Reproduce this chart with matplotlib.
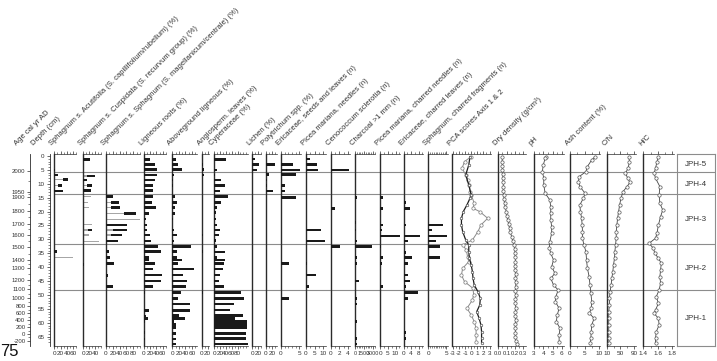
import matplotlib
matplotlib.use("Agg")
import matplotlib.pyplot as plt

plt.rcParams['font.family'] = ['Liberation Sans', 'DejaVu Sans']

# ---------------- DATA ----------------
zone_bounds = [5.9, 13.8, 31.7, 48.2]
zone_names = ["JPH-5", "JPH-4", "JPH-3", "JPH-2", "JPH-1"]
zone_label_depths = [3.2, 10.4, 23.0, 40.4, 58.6]

age_labels = ["2000", "1950", "1900", "1800", "1700", "1600", "1500", "1400", "1300",
              "1200", "1100", "1000", "800", "600", "400", "200", "0", "-200"]
age_depths = [5.4, 12.9, 14.6, 19.8, 24.3, 28.4, 32.9, 37.4, 40.4, 44.6, 47.9,
              51.2, 53.9, 56.6, 59.0, 61.6, 64.0, 66.5]

acu_depth = [5.0, 6.8, 8.5, 10.6, 12.6, 34.4, 36.6]
acu_gray = [0, 0, 26, 11, 0, 0, 60]
acu_black = [3, 12, 18, 12, 26, 7, 0]

cus_depth = [1.2, 7.2, 8.6, 10.7, 12.5, 14.6, 16.7, 18.5, 24.8, 26.6, 28.4, 30.6, 39.0]
cus_gray = [0, 11, 0, 11, 0, 24, 17, 20, 28, 17, 19, 53, 0]
cus_black = [22, 28, 11, 17, 25, 0, 0, 0, 0, 11, 0, 0, 3]

sph_depth = [14.6, 16.7, 18.5, 20.6, 22.7, 24.8, 26.6, 28.4, 30.6, 34.4, 36.6, 38.6, 43.0, 47.0]
sph_gray = [0, 14, 14, 53, 100, 0, 22, 14, 0, 0, 0, 0, 0, 0]
sph_black = [20, 25, 27, 35, 0, 61, 41, 32, 36, 10, 12, 24, 5, 20]

lig_depth = [1.2, 3.0, 4.8, 6.8, 8.6, 10.7, 12.5, 14.6, 16.7, 18.5, 20.6, 22.7, 24.8, 26.6,
             28.4, 30.6, 32.6, 34.4, 36.6, 37.4, 38.6, 40.6, 42.8, 44.9, 47.0, 49.0, 51.2,
             55.5, 57.5, 58.5, 59.5, 63.4, 65.8]
lig_vals = [19, 35, 43, 41, 35, 28, 30, 28, 25, 38, 17, 6, 11, 11, 19, 22, 46, 54, 17, 17,
            35, 28, 57, 54, 28, 4, 1, 17, 8, 14, 4, 3, 2]

abv_depth = [1.2, 3.0, 4.8, 6.8, 8.6, 10.7, 14.6, 16.7, 18.5, 20.6, 22.7, 26.6, 28.4, 30.6,
             32.6, 34.4, 36.6, 37.4, 38.6, 40.6, 42.8, 44.9, 47.0, 49.0, 51.2, 53.2, 55.5,
             57.4, 58.4, 59.6, 60.6, 61.6, 63.8, 65.8, 67.6]
abv_vals = [11, 18, 31, 6, 2, 1, 8, 13, 8, 8, 3, 5, 13, 6, 57, 13, 15, 29, 18, 68, 32, 46,
            42, 27, 18, 55, 55, 20, 39, 6, 11, 11, 11, 11, 10]

ang_depth = [3.0, 4.8, 6.8, 8.6, 28.4, 34.4, 36.6, 38.6, 49.0, 51.2]
ang_vals = [3, 8, 8, 2, 5, 3, 1.5, 1.5, 3, 1]

cyp_depth = [1.2, 5.0, 6.8, 8.6, 10.7, 12.6, 14.6, 16.7, 18.6, 20.4, 22.7, 24.8, 26.6, 28.4,
             30.4, 32.6, 34.5, 36.5, 37.4, 38.6, 40.6, 42.8, 44.9, 47.0, 49.0, 51.2, 53.2,
             55.4, 57.3, 58.4, 59.6, 60.6, 61.6, 63.8, 65.7, 67.6]
cyp_vals = [40, 10, 2, 22, 37, 20, 48, 22, 10, 5, 5, 10, 20, 15, 6, 11, 38, 8, 37, 33, 29,
            20, 17, 33, 91, 102, 68, 54, 100, 71, 114, 114, 114, 111, 111, 116]

lic_depth = [1.1, 3.0, 5.0]
lic_vals = [8, 24, 17]

pol_depth = [3.0, 6.6, 8.6, 10.7, 12.6, 24.8]
pol_vals = [30, 11, 4, 4, 24, 1]

eri_depth = [3.0, 5.0, 6.6, 10.7, 12.6, 14.9, 38.6, 51.2]
eri_vals = [3.2, 5.2, 4.1, 1.1, 1.1, 4.1, 2.2, 2.2]

pic_depth = [1.1, 3.0, 5.0, 26.6, 30.6, 38.6, 42.8, 47.0]
pic_vals = [2.3, 6.5, 6.9, 8.5, 11, 0.3, 5.8, 1.7]

cen_depth = [5.0, 18.8, 32.6]
cen_vals = [4.3, 1.1, 2.2]

cha_depth = [14.9, 24.0, 26.6, 30.6, 32.6, 36.4, 38.6, 44.9, 51.2, 53.2, 59.6, 65.6, 67.6]
cha_vals = [350, 150, 150, 350, 2780, 350, 350, 670, 280, 280, 280, 280, 280]

pcn_depth = [14.9, 18.8, 24.8, 26.6, 28.8, 32.6, 36.4, 38.6, 47.0]
pcn_vals = [1.7, 2.0, 1.7, 1.0, 12.6, 0.5, 2.0, 1.0, 2.0]

ecl_depth = [16.7, 18.8, 24.8, 28.8, 30.6, 34.6, 36.4, 38.6, 42.8, 44.9, 47.0, 49.0, 51.2,
             63.5, 65.6]
ecl_vals = [1.2, 3.5, 1.2, 8.8, 2.3, 1.2, 4.7, 2.6, 2.3, 3.5, 1.2, 7.4, 2.6, 1.2, 1.2]

scf_depth = [24.8, 26.6, 28.8, 30.6, 32.6, 36.4]
scf_vals = [4.1, 1.0, 5.2, 2.0, 3.3, 3.3]

pca1_depth = [0.2, 3.2, 6.8, 10.4, 14.0, 15.2, 17.6, 20.0, 22.4, 24.8, 27.2, 30.2, 32.0,
              34.4, 36.8, 39.2, 41.6, 44.0, 46.4, 48.8, 51.2, 53.6, 56.0, 58.4, 60.8, 63.2,
              65.6, 67.2]
pca1_vals = [-0.2, -0.4, -0.9, -0.4, 0.0, -0.2, -0.7, -1.3, -1.6, -1.6, -1.4, -0.9, -0.4,
             -0.4, -0.3, 0.0, 0.2, 0.3, 0.5, 1.1, 1.5, 1.4, 0.9, 1.3, 1.6, 1.7, 1.7, 1.7]
pca2_depth = [0.2, 2.0, 4.4, 6.8, 8.6, 10.4, 12.8, 14.0, 17.0, 18.8, 20.0, 22.4, 24.8, 27.2,
              30.2, 32.0, 33.8, 36.2, 38.0, 40.4, 42.8, 45.2, 47.6, 50.0, 51.8, 54.8, 57.2,
              59.6, 62.0, 64.4, 66.8]
pca2_vals = [0.0, -1.1, -1.5, -0.9, -0.5, -0.3, -0.2, 0.0, 0.5, 0.3, 1.4, 2.7, 1.6, 1.1,
             0.2, -1.4, -0.8, -0.6, -0.4, -1.4, -1.6, -1.1, 0.3, 0.4, 0.2, -0.7, 0.0, 0.5,
             0.8, 0.8, 0.8]

dd_depth = [0.5, 2, 3.5, 5, 6.5, 8, 9.5, 11, 12.5, 14, 15.5, 17, 18.5, 20, 21.5, 23, 24.5,
            26, 27.5, 29, 30.5, 32, 33.5, 35, 36.5, 38, 39.5, 41, 42.5, 44, 45.5, 47, 48.5,
            50, 51.5, 53, 54.5, 56, 57.5, 59, 60.5, 62, 63.5, 65, 66.5, 67.5]
dd_vals = [.05, .045, .05, .05, .055, .055, .06, .06, .06, .065, .07, .075, .085, .095,
           .105, .115, .125, .135, .145, .16, .175, .19, .2, .2, .205, .205, .2, .205, .21,
           .205, .21, .21, .205, .21, .205, .205, .21, .205, .205, .21, .205, .205, .205,
           .205, .21, .23]

ph_depth = [0.3, 0.8, 3.2, 5.6, 8.0, 10.4, 13.4, 15.8, 18.2, 20.6, 23.0, 25.4, 27.8, 30.8,
            33.2, 35.0, 37.4, 39.8, 42.2, 44.0, 46.4, 48.2, 50.6, 52.4, 54.8, 57.2, 59.6,
            62.0, 64.4, 66.8]
ph_vals = [4.25, 4.2, 4.0, 3.9, 4.05, 4.05, 4.2, 4.7, 4.8, 4.8, 4.8, 4.9, 4.9, 4.7, 4.65,
           4.8, 5.1, 4.9, 5.25, 4.8, 5.1, 5.6, 5.35, 5.3, 5.7, 5.5, 5.4, 5.8, 5.7, 5.7]

ash_depth = [0.3, 1.4, 3.8, 5.6, 7.4, 9.2, 11.0, 13.4, 15.2, 17.6, 20.0, 22.4, 24.8, 27.2,
             29.6, 32.0, 34.4, 37.4, 40.4, 43.4, 46.4, 49.4, 52.4, 54.8, 56.6, 58.4, 60.8,
             63.2, 65.6, 67.2]
ash_vals = [8.6, 7.5, 6.0, 5.5, 3.2, 2.9, 3.4, 5.2, 4.6, 3.4, 3.6, 4.0, 4.2, 4.3, 4.3, 4.8,
            5.5, 5.7, 6.0, 6.6, 6.9, 7.2, 7.5, 7.3, 6.7, 8.3, 7.5, 7.3, 7.2, 7.0]

cn_depth = [0.3, 2.0, 4.4, 6.2, 8.0, 9.5, 11.0, 12.8, 15.2, 17.6, 20.0, 22.4, 24.8, 27.2,
            29.6, 32.0, 34.4, 36.8, 39.2, 41.6, 44.0, 46.4, 48.8, 51.2, 53.6, 56.0, 58.4,
            60.8, 63.2, 65.6, 67.2]
cn_vals = [75, 77, 73, 65, 72, 78, 70, 58, 52, 48, 45, 42, 40, 38, 38, 36, 34, 33, 30, 28,
           25, 23, 20, 18, 18, 16, 16, 16, 16, 16, 17]

hc_depth = [0.3, 2.0, 4.4, 6.2, 8.0, 11.0, 14.0, 17.0, 19.4, 21.8, 24.8, 27.8, 29.6, 31.4,
            33.2, 35.0, 36.8, 38.6, 41.0, 43.4, 45.8, 48.2, 50.6, 53.0, 55.4, 56.6, 58.4,
            60.8, 63.2, 65.6, 67.2]
hc_vals = [1.61, 1.59, 1.57, 1.55, 1.57, 1.63, 1.62, 1.63, 1.67, 1.64, 1.61, 1.59, 1.57,
           1.48, 1.54, 1.56, 1.61, 1.65, 1.64, 1.63, 1.64, 1.62, 1.58, 1.61, 1.57, 1.55, 1.61,
           1.62, 1.58, 1.57, 1.57]

# ---------------- LAYOUT ----------------
W, H = 717, 361
fig = plt.figure(figsize=(W / 100, H / 100), dpi=100)
Y_TOP, Y_BOT = 154.0, 345.5
D0_PX, PX_PER_CM = 156.0, 2.78


def px_depth(y):
    return (y - D0_PX) / PX_PER_CM


YLIM = (px_depth(Y_BOT), px_depth(Y_TOP))
DARK = '#2b2b2b'
GRAY = '#a6a6a6'
TXT = '#333333'
FS = 5.5


def add_ax(x0, x1):
    ax = fig.add_axes([x0 / W, 1 - Y_BOT / H, (x1 - x0) / W, (Y_BOT - Y_TOP) / H])
    ax.set_ylim(*YLIM)
    ax.set_facecolor('none')
    return ax


# background zone lines
bg = add_ax(54.3, 715)
bg.set_xlim(0, 1)
for s in bg.spines.values():
    s.set_visible(False)
bg.set_xticks([])
bg.set_yticks([])
for zb in zone_bounds:
    bg.axhline(zb, color='#8c8c8c', lw=0.8, zorder=0)

# zone box
zb_ax = add_ax(677, 715)
zb_ax.set_xlim(0, 1)
zb_ax.set_xticks([])
zb_ax.set_yticks([])
for s in zb_ax.spines.values():
    s.set_color('#8c8c8c')
    s.set_linewidth(0.8)
for nm, d in zip(zone_names, zone_label_depths):
    zb_ax.text(0.5, d, nm, ha='center', va='center', fontsize=5.8, color=TXT)

# age axis
ag = add_ax(30, 31)
for k in ['right', 'top', 'bottom']:
    ag.spines[k].set_visible(False)
ag.spines['left'].set_color(DARK)
ag.spines['left'].set_linewidth(0.6)
ag.set_xticks([])
ag.set_yticks(age_depths)
ag.set_yticklabels(age_labels)
ag.set_yticks([(a + b) / 2 for a, b in zip(age_depths[:-1], age_depths[1:])], minor=True)
ag.tick_params(axis='y', which='major', length=2.5, width=0.5, pad=0.8, labelsize=4.3,
               colors=DARK, labelcolor=TXT)
ag.tick_params(axis='y', which='minor', length=1.3, width=0.4, colors=DARK)

# depth axis
dp = add_ax(50, 51)
for k in ['right', 'top', 'bottom']:
    dp.spines[k].set_visible(False)
dp.spines['left'].set_color(DARK)
dp.spines['left'].set_linewidth(0.6)
dp.set_xticks([])
dp.set_yticks(list(range(0, 70, 5)))
dp.set_yticklabels([str(v) for v in range(0, 70, 5)])
dp.set_yticks(list(range(0, 68)), minor=True)
dp.tick_params(axis='y', which='major', length=2.5, width=0.5, pad=1.5, labelsize=4.5,
               colors=DARK, labelcolor=TXT)
dp.tick_params(axis='y', which='minor', length=1.2, width=0.4, colors=DARK)
dp.set_ylim(*YLIM)


def panel(L, R, x0, scale, rlo, rhi, majors, labels, minors, title, lsize=4.6):
    ax = add_ax(L, R)
    ax.set_xlim(x0, x0 + (R - L) / scale)
    ax.spines['right'].set_visible(False)
    ax.spines['left'].set_color(DARK)
    ax.spines['left'].set_linewidth(1.0)
    for k in ['top', 'bottom']:
        ax.spines[k].set_bounds(rlo, rhi)
        ax.spines[k].set_color(DARK)
        ax.spines[k].set_linewidth(0.5)
    ax.set_yticks([])
    ax.xaxis.set_ticks_position('both')
    ax.set_xticks(majors)
    ax.set_xticklabels(labels)
    ax.set_xticks(minors, minor=True)
    ax.tick_params(axis='x', which='major', direction='out', length=2.2, width=0.5,
                   pad=1.5, labelsize=lsize, colors=DARK, labelcolor=TXT,
                   top=True, bottom=True, labeltop=False, labelbottom=True)
    ax.tick_params(axis='x', which='minor', direction='out', length=1.2, width=0.4,
                   colors=DARK, top=True, bottom=True)
    fig.text((L - 1) / W, 1 - 147 / H, title, rotation=45, rotation_mode='anchor',
             ha='left', va='bottom', fontsize=FS, color=TXT)
    return ax


def rng(a, b, s):
    out = []
    v = a
    while v <= b + 1e-9:
        out.append(round(v, 4))
        v += s
    return out


def bars(ax, d, v, gray=None):
    if gray is not None:
        ax.barh(d, gray, height=0.4, color=GRAY, zorder=2)
        ax.barh(d, v, left=gray, height=0.95, color='#1a1a1a', zorder=3)
    else:
        ax.barh(d, v, height=0.95, color='#1a1a1a', zorder=3)


def curve(ax, d, v, color='#444444', mfc='white', mec='#555555', lw=0.6, ms=2.4):
    ax.plot(v, d, color=color, lw=lw, marker='o', ms=ms, mfc=mfc, mec=mec, mew=0.5,
            zorder=3)


fig.text(18 / W, 1 - 147 / H, "Age cal yr AD", rotation=45, rotation_mode='anchor',
         ha='left', va='bottom', fontsize=FS, color=TXT)
fig.text(35 / W, 1 - 147 / H, "Depth (cm)", rotation=45, rotation_mode='anchor',
         ha='left', va='bottom', fontsize=FS, color=TXT)

ax = panel(54.3, 83.3, 0, 0.317, 0, 70, [0, 20, 40, 60], ['0', '20', '40', '60'],
           rng(0, 70, 10), "Sphagnum s. Acutifolia (S. capillifolium/rubellum) (%)")
bars(ax, acu_depth, acu_black, acu_gray)

ax = panel(83.3, 106, 0, 0.30, 0, 60, [0, 20, 40], ['0', '20', '40'], rng(0, 60, 10),
           "Sphagnum s. Cuspidata (S. recurvum group) (%)")
bars(ax, cus_depth, cus_black, cus_gray)

ax = panel(106, 144, 0, 0.34, 0, 100, [0, 20, 40, 60, 80], ['0', '20', '40', '60', '80'],
           rng(0, 100, 10), "Sphagnum s. Sphagnum (S. magellanicum/centrale) (%)")
bars(ax, sph_depth, sph_black, sph_gray)

ax = panel(144, 172.3, 0, 0.31, 0, 70, [0, 20, 40, 60], ['0', '20', '40', '60'],
           rng(0, 70, 10), "Ligneous roots (%)")
bars(ax, lig_depth, lig_vals)

ax = panel(172.3, 201.7, 0, 0.325, 0, 75, [0, 20, 40, 60], ['0', '20', '40', '60'],
           rng(0, 70, 10), "Aboveground ligneous (%)")
bars(ax, abv_depth, abv_vals)

ax = panel(201.7, 214.3, 0, 0.3, 0, 25, [0, 20], ['0', '20'], rng(0, 20, 10),
           "Angiosperm. leaves (%)")
bars(ax, ang_depth, ang_vals)

ax = panel(214.3, 252.3, 0, 0.29, 0, 115, [0, 20, 40, 60, 80], ['0', '20', '40', '60', '80'],
           rng(0, 110, 10), "Cyperaceae (%)")
bars(ax, cyp_depth, cyp_vals)

ax = panel(252.3, 266, 0, 0.28, 0, 30, [0, 20], ['0', '20'], rng(0, 30, 10), "Lichen (%)")
bars(ax, lic_depth, lic_vals)

ax = panel(266, 281, 0, 0.3, 0, 35, [0, 20], ['0', '20'], rng(0, 30, 10),
           "Polytrichum spp. (%)")
bars(ax, pol_depth, pol_vals)

ax = panel(281, 306, 0, 3.67, 0, 5.4, [0, 5], ['0', '5'], rng(0, 5, 1),
           "Ericaceae, seeds and leaves (n)")
bars(ax, eri_depth, eri_vals)

ax = panel(306, 330.7, 0, 1.73, 0, 11.5, [0, 5, 10], ['0', '5', '10'], rng(0, 11, 2.5),
           "Picea mariana, needles (n)")
bars(ax, pic_depth, pic_vals)

ax = panel(330.7, 355, 0, 4.3, 0, 4.5, [0, 2, 4], ['0', '2', '4'], rng(0, 4.5, 1),
           "Cenococcum sclerotia (n)")
bars(ax, cen_depth, cen_vals)

ax = panel(355, 380.3, 0, 0.006, 0, 3300, [0, 1500, 3000], ['0', '1500', '3000'],
           rng(0, 3300, 300), "Charcoal >1 mm (n)", lsize=3.9)
bars(ax, cha_depth, cha_vals)

ax = panel(380.3, 403.5, 0, 1.53, 0, 13, [0, 5, 10], ['0', '5', '10'], rng(0, 12.5, 2.5),
           "Picea mariana, charred needles (n)")
bars(ax, pcn_depth, pcn_vals)

ax = panel(403.5, 428.3, 0, 1.9, 0, 10.5, [0, 4, 8], ['0', '4', '8'], rng(0, 10, 2),
           "Ericaceae, charred leaves (n)")
bars(ax, ecl_depth, ecl_vals)

ax = panel(428.3, 452.3, 0, 3.6, 0, 5.4, [0, 5], ['0', '5'], rng(0, 5, 0.5),
           "Sphagnum, charred fragments (n)")
bars(ax, scf_depth, scf_vals)

ax = panel(452.3, 498.3, -3.1, 6.1, -3.1, 3.2, [-3, -2, -1, 0, 1, 2, 3],
           ['-3', '-2', '-1', '0', '1', '2', '3'], rng(-3, 3, 0.5), "PCA scores Axis 1 & 2")
curve(ax, pca2_depth, pca2_vals, color='#8a8a8a', mec='#7a7a7a', lw=0.7)
curve(ax, pca1_depth, pca1_vals, color='#1e1e1e', mec='#555555', lw=0.9, ms=1.8)

ax = panel(498.3, 534, 0, 83.3, 0, 0.33, [0, 0.1, 0.2, 0.3], ['0.0', '0.1', '0.2', '0.3'],
           rng(0, 0.3, 0.05), "Dry density (g/cm\u00b3)", lsize=4.2)
curve(ax, dd_depth, dd_vals)

ax = panel(534, 570, 3, 9.3, 3, 6.2, [3, 4, 5, 6], ['3', '4', '5', '6'], rng(3, 6, 0.5),
           "pH")
curve(ax, ph_depth, ph_vals)

ax = panel(570, 606.7, 0, 2.9, 0, 10.3, [0, 5, 10], ['0', '5', '10'], rng(0, 10, 2.5),
           "Ash content (%)")
curve(ax, ash_depth, ash_vals)

ax = panel(606.7, 643.3, 10, 0.34, 10, 95, [10, 50, 90], ['10', '50', '90'],
           rng(10, 90, 20), "C/N")
curve(ax, cn_depth, cn_vals)

ax = panel(643.3, 677, 1.4, 72, 1.4, 1.82, [1.4, 1.6, 1.8], ['1.4', '1.6', '1.8'],
           rng(1.4, 1.8, 0.1), "H/C")
curve(ax, hc_depth, hc_vals)

fig.text(0.5 / W, 1 - 359 / H, "75", fontsize=12, ha='left', va='bottom', color='#111111')

fig.savefig("out.png", dpi=100)
